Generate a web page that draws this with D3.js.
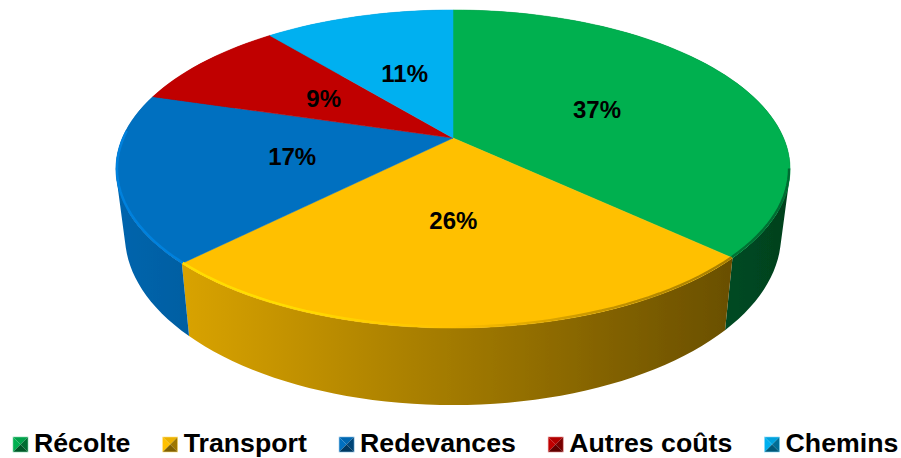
<!DOCTYPE html>
<html>
<head>
<meta charset="utf-8">
<script src="https://cdn.jsdelivr.net/npm/d3@7"></script>
<style>
  html, body { margin: 0; background: #fff; }
  svg { display: block; }
  text { font-family: "Liberation Sans", Arial, sans-serif; font-weight: 700; fill: #000; }
</style>
</head>
<body>
<div id="chart"></div>
<script>
const categories = ["Récolte", "Transport", "Redevances", "Autres coûts", "Chemins"];
const shares = [36.9, 25.6, 17.1, 9.4, 11];
const colors = ["#00B050", "#FFC000", "#0070C0", "#C00000", "#00B0F0"];

const width = 901, height = 458;

// Perspective tilt of the disc, fitted on the reference outline
const tilt = 0.195;
const topFace = { cy: 138, a: 330.6, b: 153 };
const bottomFace = { cy: 202, a: 321.8, b: 163.5 };
const cx = 453;

const svg = d3.select("#chart").append("svg")
    .attr("width", width)
    .attr("height", height);

const defs = svg.append("defs");
defs.append("filter").attr("id", "soft")
    .append("feGaussianBlur").attr("stdDeviation", 0.4);
defs.append("filter").attr("id", "rim-blur")
    .attr("x", "-5%").attr("y", "-5%").attr("width", "110%").attr("height", "110%")
    .append("feGaussianBlur").attr("stdDeviation", 0.7);

// Angle runs clockwise from the top of the disc
function project(angle, face) {
    const x = Math.sin(angle), y = -Math.cos(angle);
    const w = 1 - tilt * y;
    return [cx + face.a * x / w, face.cy + face.b * y / w];
}

const pie = d3.pie().sort(null).value(d => d);
const slices = pie(shares).map((d, i) => ({ ...d, name: categories[i], color: colors[i], i }));

const line = d3.line();
const step = Math.PI / 90;
const arcAngles = d => {
    const n = Math.max(2, Math.ceil((d.endAngle - d.startAngle) / step));
    return d3.range(n + 1).map(k => d.startAngle + (d.endAngle - d.startAngle) * k / n);
};

// Light falls from the left: the wall gets darker going to the right
const wallShade = d3.scaleLinear().domain([116, 789]).range([0.9, 0.37]);
const mix = (c, f) => d3.interpolateRgb("#000", c)(f);

function addGradient(id, stops) {
    const g = defs.append("linearGradient").attr("id", id)
        .attr("gradientUnits", "userSpaceOnUse")
        .attr("x1", 116).attr("x2", 789).attr("y1", 0).attr("y2", 0);
    g.selectAll("stop").data(stops).enter().append("stop")
        .attr("offset", d => d[0])
        .attr("stop-color", d => d[1]);
}

slices.forEach(d => {
    addGradient("wall-" + d.i, d3.range(0, 1.01, 0.25).map(t => [t, mix(d.color, wallShade(116 + 673 * t))]));
    const bright = d3.color(d.color).brighter(0.4).formatHex();
    addGradient("rim-" + d.i, [
        [0, bright],
        [0.25, bright],
        [0.5, d.color],
        [0.75, mix(d.color, 0.75)],
        [1, mix(d.color, 0.6)]
    ]);
});

const pieG = svg.append("g").attr("filter", "url(#soft)");

// Side wall: one quad per arc step, all wound the same way so they union
function wallPath(d) {
    return d3.pairs(arcAngles(d)).map(([a0, a1]) => {
        const quad = [
            project(a0, topFace), project(a1, topFace),
            project(a1, bottomFace), project(a0, bottomFace)
        ];
        if (d3.polygonArea(quad) < 0) quad.reverse();
        return line(quad) + "Z";
    }).join("");
}

pieG.selectAll("path.wall")
    .data(slices)
    .enter().append("path")
    .attr("class", "wall")
    .attr("d", wallPath)
    .attr("fill", d => `url(#wall-${d.i})`);

// Top faces
pieG.selectAll("path.top")
    .data(slices)
    .enter().append("path")
    .attr("class", "top")
    .attr("d", d => line([[cx, topFace.cy], ...arcAngles(d).map(a => project(a, topFace))]) + "Z")
    .attr("fill", d => d.color)
    .attr("stroke", d => d.color)
    .attr("stroke-width", 0.5);

// Bevel along the front of the rim, only where a wall shows below it
const rimFace = { ...topFace, a: topFace.a - 1, b: topFace.b - 1 };
pieG.selectAll("path.rim")
    .data(slices.filter(d => d.i < 3))
    .enter().append("path")
    .attr("class", "rim")
    .attr("d", d => line(arcAngles(d).filter(a => a > Math.PI * 0.56 && a < Math.PI * 1.52).map(a => project(a, rimFace))))
    .attr("fill", "none")
    .attr("stroke", d => `url(#rim-${d.i})`)
    .attr("stroke-width", 2.4)
    .attr("filter", "url(#rim-blur)");

// Data labels sit halfway out on the slice
const labelRadius = 0.49;
const labelShift = [1, -3, 0, -1, 2];
svg.append("g").selectAll("text")
    .data(slices)
    .enter().append("text")
    .attr("text-anchor", "middle")
    .attr("font-size", 24)
    .attr("dy", "0.35em")
    .attr("transform", d => {
        const mid = (d.startAngle + d.endAngle) / 2;
        const x = labelRadius * Math.sin(mid), y = -labelRadius * Math.cos(mid);
        const w = 1 - tilt * y;
        return `translate(${cx + topFace.a * x / w + labelShift[d.i]},${topFace.cy + topFace.b * y / w})`;
    })
    .text(d => Math.round(d.value) + "%");

// Legend: bevelled squares, laid out from the measured text widths
const markerSize = 15, markerGap = 6, itemGap = 32.3, legendLeft = 13, baseline = 452;
const legend = svg.append("g");
let x = legendLeft;
slices.forEach(d => {
    const item = legend.append("g").attr("transform", `translate(${x},${baseline - markerSize})`);
    const s = markerSize, m = s / 2;
    const facets = [
        [[[0, 0], [s, 0], [m, m]], 0.92],
        [[[0, 0], [m, m], [0, s]], 1],
        [[[s, 0], [s, s], [m, m]], 0.62],
        [[[0, s], [s, s], [m, m]], 0.5]
    ];
    item.selectAll("path").data(facets).enter().append("path")
        .attr("d", f => line(f[0]) + "Z")
        .attr("fill", f => mix(d.color, f[1]));
    item.append("rect").attr("width", s).attr("height", s)
        .attr("fill", "none")
        .attr("stroke", d3.interpolateRgb(d.color, "#fff")(0.5))
        .attr("stroke-width", 0.6);
    const label = item.append("text")
        .attr("x", s + markerGap)
        .attr("y", markerSize)
        .attr("font-size", 26.7)
        .text(d.name);
    x += s + markerGap + label.node().getComputedTextLength() + itemGap;
});
</script>
</body>
</html>
